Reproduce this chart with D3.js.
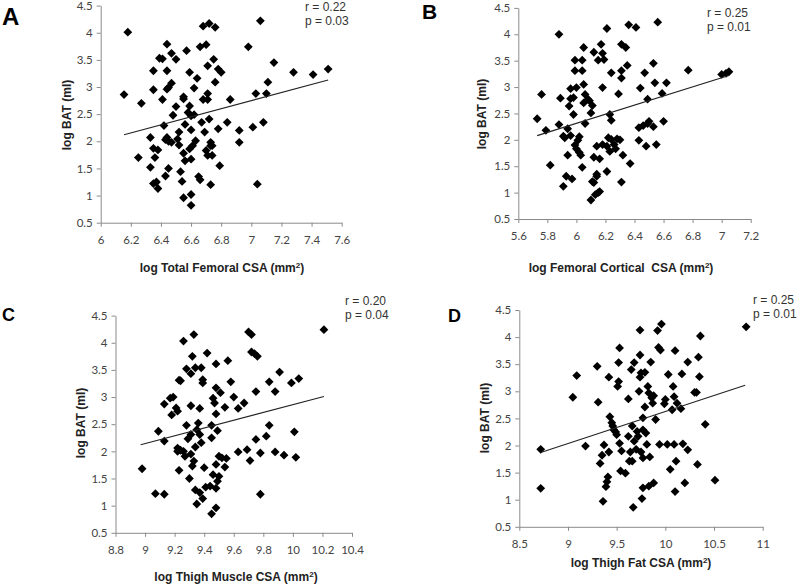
<!DOCTYPE html>
<html><head><meta charset="utf-8">
<script src="https://cdn.jsdelivr.net/npm/d3@7"></script>
<style>body{margin:0;background:#fff}svg{display:block}</style>
</head><body><svg id="chart" width="800" height="584"></svg>
<script>
// ---------- DATA ----------
const yTicks = [0.5,1,1.5,2,2.5,3,3.5,4,4.5];

// Panel A: log Total Femoral CSA vs log BAT
const aXTicks = [6,6.2,6.4,6.6,6.8,7,7.2,7.4,7.6];
const aX = [6.155,6.18,6.27,6.25,6.35,6.35,6.33,6.35,6.36,6.38,6.33,6.35,6.37,6.38,6.39,6.41,6.41,6.42,6.43,6.44,6.44,6.44,6.45,6.47,6.44,6.45,6.43,6.47,6.45,6.47,6.48,6.50,6.50,6.51,6.52,6.52,6.53,6.54,6.55,6.55,6.55,6.55,6.57,6.56,6.56,6.59,6.59,6.58,6.60,6.60,6.59,6.61,6.60,6.60,6.60,6.62,6.62,6.63,6.64,6.65,6.66,6.66,6.68,6.68,6.67,6.69,6.70,6.71,6.71,6.70,6.71,6.72,6.72,6.71,6.73,6.73,6.74,6.73,6.75,6.74,6.76,6.76,6.78,6.80,6.78,6.79,6.84,6.86,6.92,6.92,6.98,7.01,7.03,7.04,7.06,7.08,7.10,7.11,7.15,7.28,7.41,7.51];
const aY = [2.86,4.01,2.70,1.70,3.30,2.95,2.07,1.87,1.70,1.84,1.52,1.22,1.25,1.13,3.53,3.52,2.77,2.29,1.36,3.79,3.30,2.96,2.99,3.07,2.07,2.00,2.03,1.98,1.50,3.62,2.48,2.64,3.51,2.04,2.17,1.93,1.44,1.26,0.96,2.82,2.78,1.78,3.67,2.31,1.64,3.27,2.65,2.53,2.47,2.21,1.86,1.92,1.67,1.02,0.82,2.49,2.98,2.01,3.16,1.35,1.29,3.74,4.12,2.77,2.35,2.17,3.78,3.39,2.88,1.83,2.77,4.17,2.41,1.74,1.98,1.92,1.74,1.20,3.51,1.92,4.10,3.09,3.33,3.27,2.23,1.55,2.35,2.77,2.20,1.98,3.74,2.26,2.88,1.21,4.22,2.35,2.88,3.09,3.45,3.27,3.23,3.33];
const aTrend = [[6.155,2.12],[7.51,3.13]];

// Panel B: log Femoral Cortical CSA vs log BAT
const bXTicks = [5.6,5.8,6,6.2,6.4,6.6,6.8,7,7.2];
const bX = [5.73,5.76,5.79,5.82,5.88,5.88,5.89,5.91,5.91,5.93,5.92,5.94,5.94,5.96,5.95,5.96,5.97,5.96,5.98,5.98,5.99,5.99,5.99,6.00,6.00,6.01,6.02,6.02,6.03,6.04,6.04,6.04,6.05,6.05,6.05,6.06,6.06,6.08,6.09,6.10,6.11,6.10,6.11,6.12,6.12,6.12,6.14,6.14,6.13,6.15,6.16,6.14,6.15,6.16,6.17,6.18,6.18,6.19,6.18,6.21,6.21,6.21,6.22,6.23,6.23,6.24,6.24,6.24,6.26,6.27,6.28,6.29,6.30,6.31,6.31,6.31,6.32,6.31,6.34,6.35,6.36,6.37,6.41,6.43,6.43,6.44,6.46,6.47,6.48,6.49,6.49,6.50,6.53,6.53,6.54,6.55,6.56,6.59,6.60,6.62,6.77,7.00,7.03,7.05];
const bY = [2.40,2.86,2.18,1.52,2.29,4.00,2.79,2.07,1.12,1.31,2.04,2.21,1.71,2.78,2.64,2.97,1.26,2.08,2.80,2.48,1.90,3.31,3.51,2.99,1.83,1.99,2.06,1.76,1.71,3.31,3.51,1.48,3.75,3.05,2.70,2.31,2.86,2.77,2.74,2.51,2.65,0.86,1.21,1.19,1.67,3.66,1.31,1.35,0.96,1.00,1.02,1.88,3.51,1.64,3.81,1.91,3.64,3.52,2.99,4.11,1.40,1.88,2.04,1.78,2.48,2.37,3.27,2.01,1.91,1.83,2.02,2.87,2.00,1.20,3.31,3.17,1.71,3.81,3.75,3.41,4.18,1.55,4.13,1.99,2.23,2.98,2.27,3.27,1.88,2.77,2.31,2.35,3.45,2.25,3.08,1.91,4.23,2.88,2.35,3.08,3.32,3.24,3.26,3.29];
const bTrend = [[5.73,2.08],[7.05,3.22]];

// Panel C: log Thigh Muscle CSA vs log BAT
const cXTicks = [8.8,9,9.2,9.4,9.6,9.8,10,10.2,10.4];
const cX = [8.98,9.07,9.09,9.13,9.13,9.13,9.17,9.18,9.19,9.21,9.22,9.22,9.22,9.23,9.23,9.24,9.24,9.26,9.26,9.27,9.28,9.28,9.29,9.30,9.31,9.31,9.31,9.31,9.32,9.32,9.33,9.33,9.34,9.34,9.34,9.35,9.35,9.36,9.37,9.37,9.37,9.38,9.38,9.39,9.39,9.39,9.40,9.41,9.42,9.44,9.45,9.45,9.45,9.46,9.46,9.47,9.48,9.48,9.48,9.48,9.48,9.48,9.49,9.49,9.50,9.50,9.51,9.52,9.54,9.54,9.55,9.56,9.58,9.60,9.63,9.63,9.67,9.69,9.70,9.71,9.72,9.72,9.74,9.75,9.75,9.76,9.78,9.78,9.82,9.84,9.84,9.88,9.88,9.91,9.94,9.99,10.01,10.02,10.04,10.21];
const cY = [1.68,1.22,2.37,1.21,2.19,2.87,2.98,2.67,3.00,2.80,2.74,2.06,2.00,1.65,3.31,3.30,2.02,2.00,4.03,1.91,3.52,2.48,2.23,1.50,2.31,1.95,2.84,3.43,1.73,3.75,4.15,1.82,3.54,2.08,1.29,1.03,2.40,2.52,2.31,1.24,2.79,2.16,3.54,3.32,3.26,1.13,1.70,1.34,3.81,1.36,2.48,2.25,0.85,2.98,1.57,2.89,3.17,3.61,2.69,1.32,0.96,1.76,2.38,1.45,1.91,1.54,3.08,1.88,2.81,1.71,1.87,3.67,3.28,3.00,2.79,1.99,2.89,2.03,4.20,1.83,4.15,3.83,3.80,2.22,3.10,3.75,1.97,1.21,2.28,3.28,2.48,3.10,1.99,3.46,1.93,3.26,2.36,1.89,3.34,4.24];
const cTrend = [[8.97,2.12],[10.21,3.01]];

// Panel D: log Thigh Fat CSA vs log BAT
const dXTicks = [8.5,9,9.5,10,10.5,11];
const dX = [8.72,8.72,9.05,9.09,9.18,9.30,9.31,9.33,9.35,9.37,9.36,9.39,9.40,9.41,9.42,9.42,9.43,9.45,9.46,9.47,9.49,9.50,9.51,9.52,9.52,9.53,9.53,9.54,9.55,9.59,9.62,9.62,9.63,9.64,9.65,9.66,9.66,9.67,9.68,9.68,9.70,9.71,9.72,9.73,9.74,9.74,9.74,9.75,9.75,9.76,9.77,9.77,9.77,9.77,9.79,9.79,9.80,9.81,9.82,9.83,9.83,9.84,9.85,9.86,9.87,9.88,9.88,9.90,9.92,9.93,9.94,9.95,9.96,9.99,10.00,10.02,10.03,10.05,10.07,10.08,10.09,10.09,10.10,10.10,10.11,10.12,10.16,10.17,10.18,10.20,10.23,10.23,10.30,10.32,10.33,10.34,10.35,10.36,10.41,10.51,10.83];
const dY = [1.21,1.93,2.89,3.29,1.99,3.46,2.80,1.67,1.82,2.01,0.97,1.24,1.33,1.42,3.26,1.88,2.53,2.42,2.36,2.29,2.25,2.20,3.09,3.18,3.53,3.80,2.04,1.53,1.90,1.49,2.86,2.17,1.71,1.88,3.40,1.71,2.36,0.86,2.08,3.53,1.93,2.26,2.17,3.00,4.13,3.26,3.67,1.88,3.34,1.02,2.51,2.29,1.22,1.77,3.35,2.71,2.23,2.02,3.09,1.25,2.97,1.79,3.54,2.88,2.78,1.31,2.92,2.48,4.12,3.81,2.02,3.76,4.24,2.77,2.85,2.02,3.31,1.56,2.66,3.09,2.90,2.02,3.75,1.15,1.71,2.78,2.68,3.32,2.03,1.31,1.92,3.54,2.98,2.98,1.65,3.63,3.27,4.02,2.39,1.36,4.19];
const dTrend = [[8.72,1.87],[10.82,3.11]];

// ---------- LAYOUT ----------
const panels = [
  {letter:"A", lx:2, ly:25, lsize:24, xs:aX, ys:aY, xTicks:aXTicks, trend:aTrend,
   r:"r = 0.22", p:"p = 0.03", sx:305, sy:11,
   xTitle:"log Total Femoral CSA (mm", xtx:222, xty:272, ytx:71, yty:115,
   x0:100.7, x1:341.7, yTop:5.6, yBot:222.7},
  {letter:"B", lx:422, ly:19, lsize:21, xs:bX, ys:bY, xTicks:bXTicks, trend:bTrend,
   r:"r = 0.25", p:"p = 0.01", sx:707, sy:17,
   xTitle:"log Femoral Cortical  CSA (mm", xtx:621, xty:272, ytx:486, yty:114,
   x0:518.3, x1:750.7, yTop:7.9, yBot:219},
  {letter:"C", lx:2, ly:321, lsize:18, xs:cX, ys:cY, xTicks:cXTicks, trend:cTrend,
   r:"r = 0.20", p:"p = 0.04", sx:345, sy:305,
   xTitle:"log Thigh Muscle CSA (mm", xtx:236, xty:581, ytx:85, yty:423,
   x0:115.5, x1:352, yTop:315.6, yBot:532.8},
  {letter:"D", lx:448, ly:322, lsize:18, xs:dX, ys:dY, xTicks:dXTicks, trend:dTrend,
   r:"r = 0.25", p:"p = 0.01", sx:753, sy:304,
   xTitle:"log Thigh Fat CSA (mm", xtx:641, xty:567, ytx:489, yty:418,
   x0:519.3, x1:762.7, yTop:310, yBot:526.8}
];

const svg = d3.select("#chart");
const axisColor = "#8a8a8a";
const titleFont = "'Liberation Sans', Arial, sans-serif";
const tickFont = "Lato, 'Liberation Sans', sans-serif";
const R = 4.4;
const diamond = `M0,${-R}L${R},0L0,${R}L${-R},0Z`;

panels.forEach(P => {
  const x = d3.scaleLinear().domain([P.xTicks[0], P.xTicks[P.xTicks.length-1]]).range([P.x0, P.x1]);
  const y = d3.scaleLinear().domain([0.5, 4.5]).range([P.yBot, P.yTop]);
  const g = svg.append("g");

  const xa = g.append("g").attr("transform", `translate(0,${P.yBot})`)
    .call(d3.axisBottom(x).tickValues(P.xTicks).tickSize(4).tickSizeOuter(0).tickPadding(9).tickFormat(d => String(d)));
  const ya = g.append("g").attr("transform", `translate(${P.x0},0)`)
    .call(d3.axisLeft(y).tickValues(yTicks).tickSize(4).tickSizeOuter(0).tickPadding(4).tickFormat(d => String(d)));
  [xa, ya].forEach(a => {
    a.selectAll("path,line").attr("stroke", axisColor).attr("stroke-width", 1);
    a.selectAll("text").attr("fill", "#444").style("font-family", tickFont).style("font-size", "11.5px");
  });

  // points
  g.append("g").selectAll("path").data(P.xs.map((v,i) => [v, P.ys[i]])).join("path")
    .attr("d", diamond)
    .attr("transform", d => `translate(${x(d[0])},${y(d[1])})`)
    .attr("fill", "#000");

  // trend line
  g.append("line")
    .attr("x1", x(P.trend[0][0])).attr("y1", y(P.trend[0][1]))
    .attr("x2", x(P.trend[1][0])).attr("y2", y(P.trend[1][1]))
    .attr("stroke", "#222").attr("stroke-width", 1.1);

  // letter
  g.append("text").attr("x", P.lx).attr("y", P.ly).text(P.letter)
    .style("font-family", titleFont).style("font-weight", "bold").style("font-size", P.lsize + "px").attr("fill", "#000");

  // stats
  g.append("text").attr("x", P.sx).attr("y", P.sy).text(P.r)
    .style("font-family", titleFont).style("font-size", "12px").attr("fill", "#333");
  g.append("text").attr("x", P.sx).attr("y", P.sy + 14).text(P.p)
    .style("font-family", titleFont).style("font-size", "12px").attr("fill", "#333");

  // x title
  const xt = g.append("text").attr("x", P.xtx).attr("y", P.xty).attr("text-anchor", "middle")
    .style("white-space", "pre")
    .style("font-family", titleFont).style("font-weight", "bold").style("font-size", "12px").attr("fill", "#222");
  xt.append("tspan").text(P.xTitle);
  xt.append("tspan").text("2").attr("dy", -4).style("font-size", "8px");
  xt.append("tspan").text(")").attr("dy", 4);

  // y title
  g.append("text").attr("transform", `translate(${P.ytx},${P.yty}) rotate(-90)`).attr("text-anchor", "middle")
    .text("log BAT (ml)")
    .style("font-family", titleFont).style("font-weight", "bold").style("font-size", "12px").attr("fill", "#222");
});
</script></body></html>
